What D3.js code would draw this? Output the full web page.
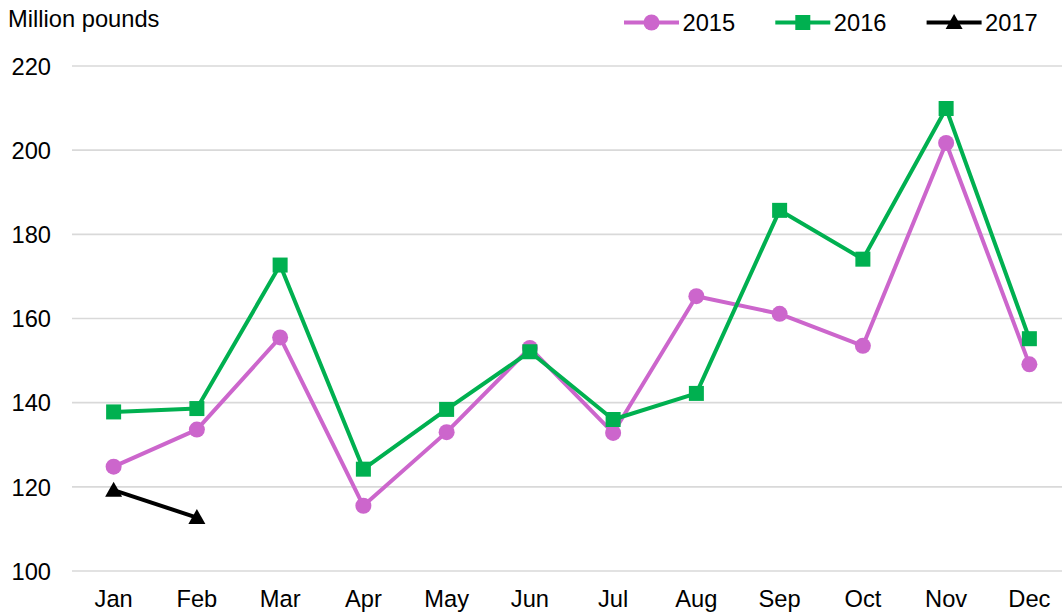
<!DOCTYPE html>
<html>
<head>
<meta charset="utf-8">
<script src="https://cdn.jsdelivr.net/npm/d3@7"></script>
<style>
  html, body { margin: 0; padding: 0; background: #fff; }
  svg { display: block; font-family: "Liberation Sans", Arial, sans-serif; }
</style>
</head>
<body>
<div id="chart"></div>
<script>
// ===================== DATA =====================
const months = ["Jan", "Feb", "Mar", "Apr", "May", "Jun", "Jul", "Aug", "Sep", "Oct", "Nov", "Dec"];
const values2015 = [124.8, 133.6, 155.5, 115.5, 133.0, 153.0, 132.8, 165.3, 161.1, 153.5, 201.7, 149.1];
const values2016 = [137.8, 138.6, 172.7, 124.2, 138.4, 152.1, 136.0, 142.2, 185.7, 174.1, 209.9, 155.2];
const values2017 = [119.2, 112.7];
const yTicks = [100, 120, 140, 160, 180, 200, 220];

const series = [
  { name: "2015", values: values2015, color: "#CC66CC", marker: "circle" },
  { name: "2016", values: values2016, color: "#00B050", marker: "square" },
  { name: "2017", values: values2017, color: "#000000", marker: "triangle" }
];

// ===================== CHART =====================
const width = 1062, height = 613;
const fontSize = 23.7;

const svg = d3.select("#chart").append("svg")
  .attr("width", width)
  .attr("height", height);

const x = d3.scaleBand().domain(months).range([72, 1071]).paddingInner(0).paddingOuter(0);
const y = d3.scaleLinear().domain([100, 220]).range([571, 66]);
const cx = m => x(m) + x.bandwidth() / 2;

// gridlines
svg.append("g").selectAll("line")
  .data(yTicks)
  .enter().append("line")
  .attr("x1", 72).attr("x2", width)
  .attr("y1", d => y(d)).attr("y2", d => y(d))
  .attr("stroke", "#d9d9d9")
  .attr("stroke-width", 1.6);

// y tick labels
const yAxis = d3.axisLeft(y).tickValues(yTicks).tickSize(0).tickPadding(0);
svg.append("g")
  .attr("transform", "translate(51,0)")
  .call(yAxis)
  .call(g => g.select(".domain").remove())
  .call(g => g.selectAll("text")
    .attr("font-size", fontSize)
    .attr("font-family", "Liberation Sans, Arial, sans-serif")
    .attr("fill", "#000")
    .attr("dy", "0.35em"));

// x tick labels
const xAxis = d3.axisBottom(x).tickSize(0).tickPadding(0);
svg.append("g")
  .attr("transform", "translate(0,590)")
  .call(xAxis)
  .call(g => g.select(".domain").remove())
  .call(g => g.selectAll("text")
    .attr("font-size", fontSize)
    .attr("font-family", "Liberation Sans, Arial, sans-serif")
    .attr("fill", "#000")
    .attr("dy", "0.72em"));

// axis title
svg.append("text")
  .attr("x", 8).attr("y", 26.5)
  .attr("font-size", fontSize)
  .text("Million pounds");

// marker drawing
function drawMarker(sel, type, color) {
  if (type === "circle") {
    sel.append("circle").attr("r", 8).attr("fill", color);
  } else if (type === "square") {
    sel.append("rect").attr("x", -7.5).attr("y", -7.5)
      .attr("width", 15).attr("height", 15).attr("fill", color);
  } else {
    sel.append("path").attr("d", "M0,-8.5L8.5,6.5L-8.5,6.5Z").attr("fill", color);
  }
}

const line = d3.line()
  .x((d, i) => cx(months[i]))
  .y(d => y(d));

series.forEach(s => {
  svg.append("path")
    .datum(s.values)
    .attr("fill", "none")
    .attr("stroke", s.color)
    .attr("stroke-width", 4)
    .attr("stroke-linejoin", "round")
    .attr("d", line);

  svg.append("g").selectAll("g")
    .data(s.values)
    .enter().append("g")
    .attr("transform", (d, i) => `translate(${cx(months[i])},${y(d)})`)
    .each(function() { drawMarker(d3.select(this), s.marker, s.color); });
});

// legend
const legend = svg.append("g").attr("transform", "translate(624,22.5)");
const legendItem = legend.selectAll("g")
  .data(series)
  .enter().append("g")
  .attr("transform", (d, i) => `translate(${i * 151.3},0)`);

legendItem.append("line")
  .attr("x1", 0).attr("x2", 55)
  .attr("stroke", d => d.color)
  .attr("stroke-width", 4);

legendItem.each(function(d) {
  const g = d3.select(this).append("g").attr("transform", "translate(27.5,0)");
  drawMarker(g, d.marker, d.color);
});

legendItem.append("text")
  .attr("x", 58.5)
  .attr("dy", "0.35em")
  .attr("font-size", fontSize)
  .text(d => d.name);
</script>
</body>
</html>
